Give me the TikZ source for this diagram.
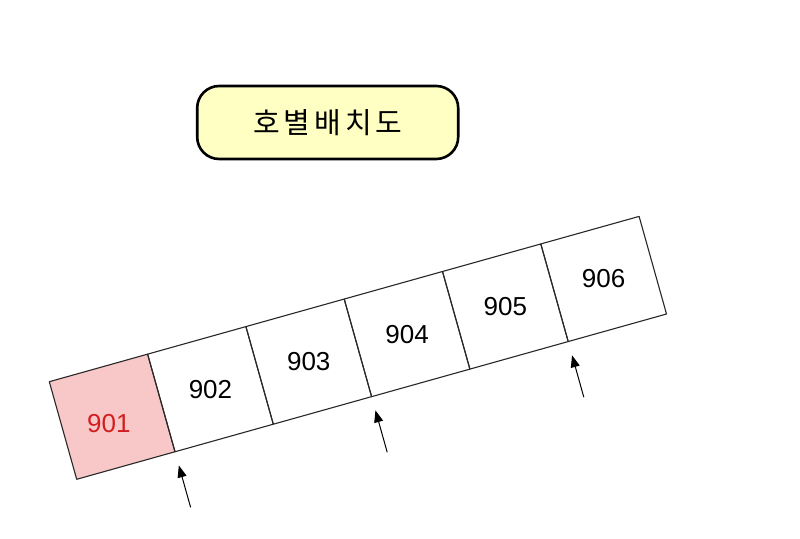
\documentclass[tikz,border=0pt]{standalone}
\usepackage{fontspec}
\setmainfont{Liberation Sans}
\newfontfamily\krfont{Noto Sans CJK KR}
\usetikzlibrary{arrows.meta}
\definecolor{titlefill}{RGB}{255,255,196}
\definecolor{redfill}{RGB}{248,200,200}
\definecolor{redtext}{RGB}{210,30,30}
\definecolor{linegray}{RGB}{40,40,40}
\tikzset{
  titlebox/.style={draw=black, line width=2.6pt, fill=titlefill, rounded corners=22pt,
    minimum width=261pt, minimum height=73pt, inner sep=0pt},
  roombox/.style={draw=linegray, line width=1.1pt, line join=round},
  roomlabel/.style={font=\fontsize{26}{26}\selectfont, inner sep=0pt},
  pointer/.style={draw=black, line width=1pt, -{Triangle[length=12pt,width=9pt]}}
}
\begin{document}
\begin{tikzpicture}[x=1pt,y=-1pt]
\fill[white] (0,0) rectangle (800,538);
\useasboundingbox (0,0) rectangle (800,538);
\node[titlebox] (title) at (327.7,122.5) {\krfont\fontsize{29}{29}\selectfont 호\hspace{4pt}별\hspace{4pt}배\hspace{4pt}치\hspace{4pt}도};
\begin{scope}[shift={(76.7,479.3)}, x={(98.3pt,27.55pt)}, y={(-27.4pt,97.6pt)}]
  \fill[redfill] (0,0) -- (1,0) -- (1,1) -- (0,1) -- cycle;
  \foreach \i in {0,...,5} {\draw[roombox] (\i,0) -- (\i+1,0) -- (\i+1,1) -- (\i,1) -- cycle;}
  \node[roomlabel, text=redtext] (r901) at (0.45,0.44) {901};
  \node[roomlabel] (r902) at (1.5,0.5) {902};
  \node[roomlabel] (r903) at (2.5,0.5) {903};
  \node[roomlabel] (r904) at (3.5,0.5) {904};
  \node[roomlabel] (r905) at (4.5,0.5) {905};
  \node[roomlabel] (r906) at (5.5,0.5) {906};
  \coordinate (a1s) at (1,-0.57); \coordinate (a1e) at (1,-0.14);
  \coordinate (a2s) at (3,-0.57); \coordinate (a2e) at (3,-0.14);
  \coordinate (a3s) at (5,-0.57); \coordinate (a3e) at (5,-0.14);
\end{scope}
\draw[pointer] (a1s) -- (a1e);
\draw[pointer] (a2s) -- (a2e);
\draw[pointer] (a3s) -- (a3e);
\end{tikzpicture}
\end{document}
